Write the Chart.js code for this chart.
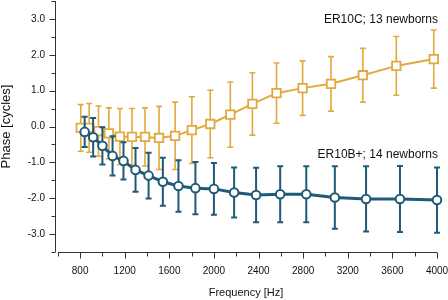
<!DOCTYPE html>
<html><head><meta charset="utf-8">
<script src="https://cdn.jsdelivr.net/npm/chart.js@4.4.1/dist/chart.umd.min.js"></script>
<style>html,body{margin:0;padding:0;background:#fff}canvas{display:block}</style>
</head><body>
<canvas id="c" width="448" height="300"></canvas>
<script>
// ER10B+ (blue circles)
const freqB  = [841, 917, 1000, 1091, 1189, 1297, 1414, 1542, 1682, 1834, 2000, 2181, 2378, 2594, 2828, 3084, 3364, 3668, 4000];
const phaseB = [-0.15, -0.30, -0.54, -0.82, -0.96, -1.21, -1.37, -1.54, -1.66, -1.72, -1.74, -1.84, -1.91, -1.89, -1.89, -1.98, -2.02, -2.02, -2.05];
const errB   = [0.42, 0.54, 0.52, 0.55, 0.52, 0.61, 0.64, 0.67, 0.72, 0.73, 0.72, 0.70, 0.76, 0.78, 0.78, 0.87, 0.91, 0.92, 0.91];
// ER10C (orange squares)
const freqC  = [806, 881, 965, 1058, 1157, 1265, 1382, 1508, 1652, 1802, 1967, 2147, 2345, 2561, 2795, 3050, 3335, 3635, 3971];
const phaseC = [-0.04, -0.04, -0.13, -0.19, -0.28, -0.29, -0.29, -0.32, -0.26, -0.10, 0.07, 0.33, 0.63, 0.93, 1.07, 1.19, 1.43, 1.69, 1.88];
const errC   = [0.65, 0.68, 0.70, 0.71, 0.78, 0.79, 0.81, 0.88, 0.94, 0.93, 0.94, 0.91, 0.87, 0.84, 0.76, 0.76, 0.75, 0.82, 0.81];
// ticks
const xTicks = [800, 1200, 1600, 2000, 2400, 2800, 3200, 3600, 4000];
const xMinorTicks = [600, 1000, 1400, 1800, 2200, 2600, 3000, 3400, 3800];
const yTicks = [-3, -2, -1, 0, 1, 2, 3];
const yTickLabels = ['-3.0', '-2.0', '-1.0', '0.0', '1.0', '2.0', '3.0'];
const yMinorTicks = [-3.5, -2.5, -1.5, -0.5, 0.5, 1.5, 2.5, 3.5];
const labelB = 'ER10B+; 14 newborns';
const labelC = 'ER10C; 13 newborns';

const FONT = "'Liberation Sans',Arial,sans-serif";
const ORANGE = '#E2A93E';
const BLUE = '#1F5A78';
const AXIS = '#333333';

const errorBars = {
  id: 'errorBars',
  beforeDatasetDraw(chart, args) {
    const ds = chart.data.datasets[args.index];
    if (!ds.errors) return;
    const {ctx} = chart, xs = chart.scales.x, ys = chart.scales.y;
    ctx.save();
    ctx.strokeStyle = ds.borderColor;
    ctx.lineWidth = ds.errWidth;
    ds.data.forEach((p, i) => {
      const x = xs.getPixelForValue(p.x);
      const y1 = ys.getPixelForValue(p.y + ds.errors[i]);
      const y2 = ys.getPixelForValue(p.y - ds.errors[i]);
      ctx.beginPath();
      ctx.moveTo(x, y1); ctx.lineTo(x, y2);
      ctx.moveTo(x - ds.capW, y1); ctx.lineTo(x + ds.capW, y1);
      ctx.moveTo(x - ds.capW, y2); ctx.lineTo(x + ds.capW, y2);
      ctx.stroke();
    });
    ctx.restore();
  }
};

const axesPlugin = {
  id: 'axesPlugin',
  beforeDatasetsDraw(chart) {
    const {ctx, chartArea} = chart, xs = chart.scales.x, ys = chart.scales.y;
    ctx.save();
    ctx.strokeStyle = AXIS;
    ctx.lineWidth = 1;
    const ax = chartArea.left + 0.5;
    ctx.beginPath();
    ctx.moveTo(ax, ys.getPixelForValue(3.5)); ctx.lineTo(ax, ys.getPixelForValue(-3.5));
    yTicks.forEach(v => { const y = Math.round(ys.getPixelForValue(v)) + 0.5; ctx.moveTo(ax, y); ctx.lineTo(ax - 6, y); });
    yMinorTicks.forEach(v => { const y = Math.round(ys.getPixelForValue(v)) + 0.5; ctx.moveTo(ax, y); ctx.lineTo(ax - 4, y); });
    const ay = chartArea.bottom + 0.5;
    ctx.moveTo(xs.getPixelForValue(600), ay); ctx.lineTo(xs.getPixelForValue(4000), ay);
    xTicks.forEach(v => { const x = Math.round(xs.getPixelForValue(v)) + 0.5; ctx.moveTo(x, ay); ctx.lineTo(x, ay + 6); });
    xMinorTicks.forEach(v => { const x = Math.round(xs.getPixelForValue(v)) + 0.5; ctx.moveTo(x, ay); ctx.lineTo(x, ay + 4); });
    ctx.stroke();
    ctx.restore();
  }
};

const textLabels = {
  id: 'textLabels',
  afterDraw(chart) {
    const {ctx} = chart, xs = chart.scales.x, ys = chart.scales.y;
    ctx.save();
    ctx.fillStyle = '#111';
    ctx.font = "12px " + FONT;
    ctx.textAlign = 'right';
    ctx.textBaseline = 'middle';
    ctx.fillText(labelC, xs.getPixelForValue(4000) + 1, ys.getPixelForValue(2.98));
    ctx.fillText(labelB, xs.getPixelForValue(4000) + 1, ys.getPixelForValue(-0.80));
    ctx.restore();
  }
};

new Chart(document.getElementById('c'), {
  type: 'line',
  data: {
    datasets: [
      {
        label: labelB,
        data: freqB.map((f, i) => ({x: f, y: phaseB[i]})),
        errors: errB, errWidth: 2, capW: 3,
        borderColor: BLUE, borderWidth: 3,
        pointStyle: 'circle', pointRadius: 4.3, pointBorderWidth: 2,
        pointBackgroundColor: '#fff', pointBorderColor: BLUE,
        tension: 0, order: 0, clip: false
      },
      {
        label: labelC,
        data: freqC.map((f, i) => ({x: f, y: phaseC[i]})),
        errors: errC, errWidth: 1.6, capW: 3,
        borderColor: ORANGE, borderWidth: 2,
        pointStyle: 'rect', pointRadius: 6, pointBorderWidth: 1.8,
        pointBackgroundColor: '#fff', pointBorderColor: ORANGE,
        tension: 0, order: 1, clip: false
      }
    ]
  },
  options: {
    responsive: false,
    animation: false,
    devicePixelRatio: 1,
    layout: {autoPadding: false, padding: {top: 1, right: 11, left: 0, bottom: 0}},
    plugins: {legend: {display: false}, tooltip: {enabled: false}},
    scales: {
      x: {
        type: 'linear', min: 575, max: 4000,
        afterBuildTicks: s => { s.ticks = xTicks.map(v => ({value: v})); },
        afterFit: s => { s.height = 48; s.paddingLeft = 0; s.paddingRight = 0; },
        grid: {display: false, drawTicks: false}, border: {display: false},
        ticks: {font: {family: FONT, size: 10}, color: '#111', padding: 13, maxRotation: 0, autoSkip: false, callback: v => String(v)},
        title: {display: true, text: 'Frequency [Hz]', font: {family: FONT, size: 11}, color: '#111', padding: {top: 0, bottom: 0}}
      },
      y: {
        type: 'linear', min: -3.5, max: 3.5,
        afterBuildTicks: s => { s.ticks = yTicks.map(v => ({value: v})); },
        afterFit: s => { s.width = 55; s.paddingTop = 0; s.paddingBottom = 0; },
        grid: {display: false, drawTicks: false}, border: {display: false},
        ticks: {font: {family: FONT, size: 10}, color: '#111', padding: 10, autoSkip: false, callback: v => yTickLabels[yTicks.indexOf(v)]},
        title: {display: true, text: 'Phase [cycles]', font: {family: FONT, size: 13, lineHeight: 1}, color: '#111', padding: {top: 0, bottom: 0}}
      }
    }
  },
  plugins: [errorBars, axesPlugin, textLabels]
});
</script>
</body></html>
